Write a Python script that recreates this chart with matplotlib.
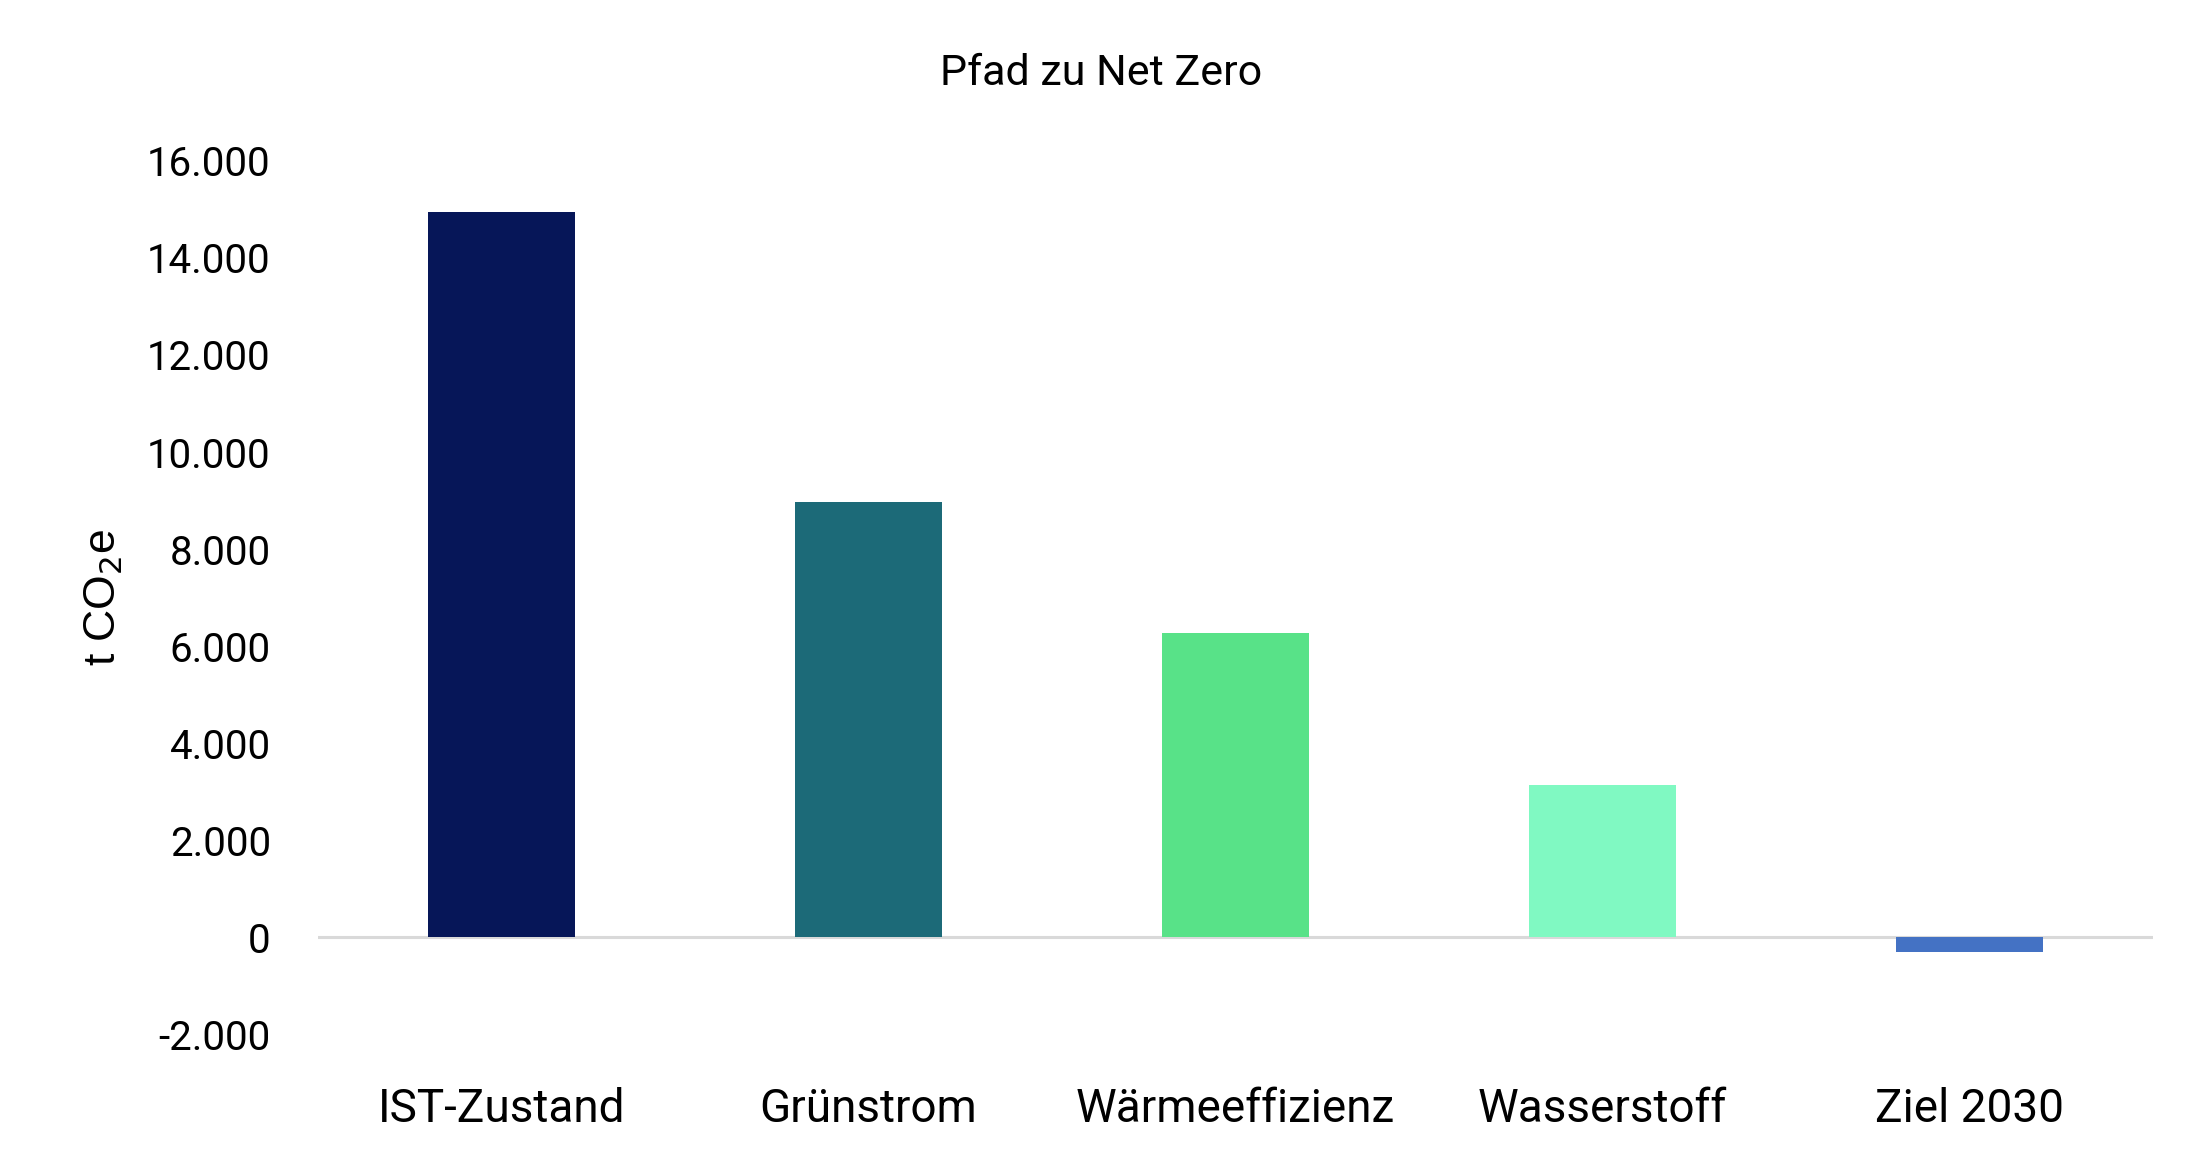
import matplotlib
matplotlib.use("Agg")
import matplotlib.pyplot as plt

# ------ data ------
categories = ["IST-Zustand", "Grünstrom", "Wärmeeffizienz", "Wasserstoff", "Ziel 2030"]
values = [14950, 8970, 6270, 3140, -290]
colors = ["#061658", "#1C6A78", "#58E288", "#80F9C2", "#4472C4"]
yticks = [-2000, 0, 2000, 4000, 6000, 8000, 10000, 12000, 14000, 16000]
ytick_labels = ["-2.000", "0", "2.000", "4.000", "6.000", "8.000",
                "10.000", "12.000", "14.000", "16.000"]
# ------ /data ------

plt.rcParams["font.family"] = ["Roboto", "DejaVu Sans"]

fig = plt.figure(figsize=(22.03, 11.68), dpi=100)
ax = fig.add_axes([318 / 2203, 1 - 1034.6 / 1168, (2153 - 318) / 2203, (1034.6 - 160.7) / 1168])

x = list(range(len(categories)))
ax.bar(x, values, width=0.4, color=colors, zorder=2)
ax.axhline(0, color="#d9d9d9", linewidth=2.2, zorder=1)

ax.set_xlim(-0.5, len(categories) - 0.5)
ax.set_ylim(-2000, 16000)
ax.set_yticks(yticks)
ax.set_yticklabels(ytick_labels)
ax.set_xticks(x)
ax.set_xticklabels(categories)

for s in ax.spines.values():
    s.set_visible(False)
ax.tick_params(axis="y", length=0, pad=34, labelsize=29, colors="black")
ax.tick_params(axis="x", length=0, pad=38, labelsize=33, colors="black")

ax.set_ylabel("t CO$_2$e", fontsize=32, family=["Liberation Sans", "DejaVu Sans"], labelpad=16)

fig.text(0.5, 1 - 85 / 1168, "Pfad zu Net Zero", ha="center", va="baseline", fontsize=31)

fig.savefig("out.png", dpi=100)
